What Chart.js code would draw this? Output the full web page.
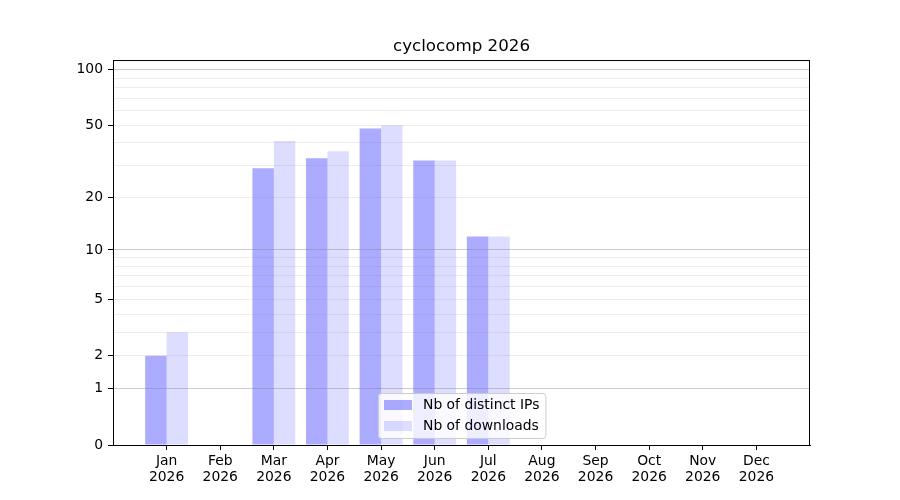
<!DOCTYPE html>
<html>
<head>
<meta charset="utf-8">
<script src="https://cdn.jsdelivr.net/npm/chart.js@4.4.1/dist/chart.umd.min.js"></script>
<style>
  html, body { margin: 0; padding: 0; background: #fff; }
  #wrap { width: 900px; height: 500px; }
</style>
</head>
<body>
<div id="wrap"><canvas id="chart_canvas" width="900" height="500"></canvas></div>
<script>
// data
const months = ['Jan','Feb','Mar','Apr','May','Jun','Jul','Aug','Sep','Oct','Nov','Dec']
const year = '2026'
const distinctIPs = [2,0,29,33,48,32,12,0,0,0,0,0]
const downloads = [3,0,41,36,50,32,12,0,0,0,0,0]
const yTickLabels = [0,1,2,5,10,20,50,100]
const yMinorTicks = [3,4,6,7,8,9,30,40,60,70,80,90]
const yMajorGrid = [1,10,100]

// y axis is log10(1 + v)
const tr = v => Math.log10(1 + v)
const untr = t => Math.round(Math.pow(10, t) - 1)

const font = 'DejaVu Sans'

// full box round the plot
const framePlugin = {
    id: 'frame',
    afterDraw(chart) {
        const {ctx, chartArea: {left, top, right, bottom}} = chart
        ctx.save()
        ctx.strokeStyle = '#000'
        ctx.lineWidth = 1
        ctx.strokeRect(left + 0.5, top + 0.5, right - left - 1, bottom - top)
        ctx.restore()
    }
}

// legend drawn inside the plot, lower center
const innerLegend = {
    id: 'innerLegend',
    afterDraw(chart) {
        const {ctx, chartArea} = chart
        const sets = chart.data.datasets
        ctx.save()
        ctx.font = '13.9px "' + font + '"'
        let maxW = 0
        sets.forEach(s => { maxW = Math.max(maxW, ctx.measureText(s.label).width) })
        const patchW = 28, patchH = 10, pad = 6, gap = 11
        const w = pad + patchW + gap + maxW + pad
        const h = 45
        const x = Math.round((chartArea.left + chartArea.right) / 2 - w / 2)
        const y = chartArea.bottom - 7 - h
        ctx.beginPath()
        ctx.roundRect(x + 0.5, y + 0.5, w, h, 3)
        ctx.fillStyle = 'rgba(255,255,255,0.8)'
        ctx.fill()
        ctx.strokeStyle = '#cccccc'
        ctx.lineWidth = 1
        ctx.stroke()
        sets.forEach((s, i) => {
            const cy = y + 12 + i * 21
            ctx.fillStyle = s.backgroundColor
            ctx.fillRect(x + pad, cy - patchH / 2, patchW, patchH)
            ctx.fillStyle = '#000'
            ctx.textBaseline = 'middle'
            ctx.textAlign = 'left'
            ctx.fillText(s.label, x + pad + patchW + gap, cy)
        })
        ctx.restore()
    }
}

const data = {
    datasets: [{
        label: 'Nb of distinct IPs',
        data: months.map((m, i) => ({x: i, y: tr(distinctIPs[i])})),
        backgroundColor: 'rgba(0,0,255,0.33)',
        borderWidth: 0,
        categoryPercentage: 0.8,
        barPercentage: 1.0
    }, {
        label: 'Nb of downloads',
        data: months.map((m, i) => ({x: i, y: tr(downloads[i])})),
        backgroundColor: 'rgba(0,0,255,0.133)',
        borderWidth: 0,
        categoryPercentage: 0.8,
        barPercentage: 1.0
    }]
}

const config = {
    type: 'bar',
    data,
    options: {
        responsive: false,
        animation: false,
        devicePixelRatio: 1,
        layout: {
            padding: {left: 0, right: 90, top: 0, bottom: 0}
        },
        scales: {
            x: {
                type: 'linear',
                min: -1,
                max: 12,
                offset: false,
                afterBuildTicks: scale => {
                    scale.ticks = months.map((m, i) => ({value: i}))
                },
                afterFit: scale => { scale.height = 55 },
                grid: {
                    offset: false,
                    drawOnChartArea: false,
                    tickLength: 5,
                    tickColor: '#000'
                },
                border: {color: '#000', width: 1},
                ticks: {
                    autoSkip: false,
                    maxRotation: 0,
                    padding: 3,
                    color: '#000',
                    font: {family: font, size: 13.9, lineHeight: 1.15},
                    callback: v => [months[v], year]
                }
            },
            y: {
                type: 'linear',
                min: 0,
                max: 2.0555,
                afterBuildTicks: scale => {
                    const all = [...yTickLabels, ...yMinorTicks].sort((a, b) => a - b)
                    scale.ticks = all.map(v => ({value: tr(v)}))
                },
                afterFit: scale => { scale.width = 113 },
                grid: {
                    z: 1,
                    lineWidth: 1,
                    tickLength: 5,
                    color: ctx => {
                        if (!ctx.tick) return 'transparent'
                        const v = untr(ctx.tick.value)
                        if (v === 0) return 'transparent'
                        return yMajorGrid.includes(v) ? 'rgba(128,128,128,0.4)' : 'rgba(128,128,128,0.15)'
                    },
                    tickColor: ctx => {
                        if (!ctx.tick) return 'transparent'
                        return yTickLabels.includes(untr(ctx.tick.value)) ? '#000' : 'transparent'
                    }
                },
                border: {display: false},
                ticks: {
                    autoSkip: false,
                    padding: 5,
                    color: '#000',
                    font: {family: font, size: 13.9},
                    callback: value => {
                        const v = untr(value)
                        return yTickLabels.includes(v) ? String(v) : ''
                    }
                }
            }
        },
        plugins: {
            legend: {display: false},
            tooltip: {enabled: false},
            title: {
                display: true,
                text: 'cyclocomp ' + year,
                fullSize: false,
                color: '#000',
                font: {family: font, size: 16.7, weight: 'normal', lineHeight: 1.2},
                padding: {top: 37, bottom: 3}
            }
        }
    },
    plugins: [framePlugin, innerLegend]
}

var myChart = new Chart(document.getElementById('chart_canvas').getContext('2d'), config)
</script>
</body>
</html>
